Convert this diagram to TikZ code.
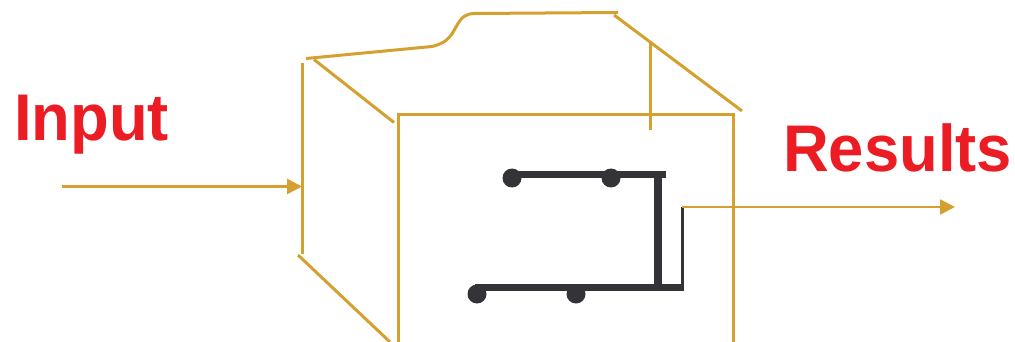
\documentclass[tikz,border=0pt]{standalone}
\usepackage{fontspec}
\setmainfont{Liberation Sans}
\usetikzlibrary{arrows.meta}
\definecolor{gold}{HTML}{D4A030}
\definecolor{wire}{HTML}{333338}
\definecolor{labelred}{HTML}{EC1C24}
\newcommand{\narrowlabel}[1]{\scalebox{0.96}[1]{#1}}
\tikzset{
  box/.style={draw=gold, line width=3pt},
  flow/.style={draw=gold, line width=2.8pt, -{Triangle[length=15pt,width=15pt]}},
  trace/.style={draw=wire, line width=7pt},
  pin/.style={fill=wire, draw=none},
  caption/.style={text=labelred, font=\bfseries\fontsize{66}{66}\selectfont, inner sep=0pt, anchor=base west}
}
\begin{document}
\begin{tikzpicture}[x=1pt, y=-1pt]
  \useasboundingbox (0,0) rectangle (1015,342);
  \fill[white] (0,0) rectangle (1015,342);

  % box outline: front face, back edges and lid
  \coordinate (fl) at (398,342);
  \coordinate (ftl) at (398,115);
  \coordinate (ftr) at (733,115);
  \coordinate (fr) at (733,342);
  \draw[box] (fl) -- (ftl) -- (ftr) -- (fr);
  \coordinate (bt) at (302,63);
  \coordinate (bb) at (302,254);
  \draw[box] (bt) -- (bb);
  \draw[box] (306,58.5) -- (432,46.5)
     .. controls (446,43) and (450,38) .. (456,27)
     .. controls (462,16) and (466,14) .. (474,13.5)
     -- (618,12.5);
  \draw[box] (314,59.5) -- (394,122.5);
  \draw[box] (614,15) -- (742,111);
  \draw[box] (650,42) -- (650,130);
  \draw[box] (298,255) -- (390,342);

  % circuit inside the box
  \coordinate (p1) at (512,178);
  \coordinate (p2) at (611,178);
  \coordinate (p3) at (477,294);
  \coordinate (p4) at (576,294);
  \coordinate (tr) at (666,175);
  \coordinate (br) at (682,287);
  \draw[trace] (512,175) -- (tr);
  \draw[trace] (475,287) -- (br);
  \draw[wire, line width=8pt] (658,175) -- (658,290.5);
  \draw[wire, line width=3pt] (682.5,207) -- (682.5,290.5);
  \foreach \p in {p1,p2,p3,p4} \fill[pin] (\p) circle (9.5);

  % input and output flows
  \coordinate (in) at (62,186.5);
  \coordinate (out0) at (682,207);
  \coordinate (out) at (955,207);
  \draw[flow] (in) -- (bt |- in);
  \draw[flow, line width=2.3pt] (out0) -- (out);

  % labels
  \node[caption] (inlabel) at (14,141) {\narrowlabel{Input}};
  \node[caption] (outlabel) at (783,171.5) {\narrowlabel{Results}};
\end{tikzpicture}
\end{document}
